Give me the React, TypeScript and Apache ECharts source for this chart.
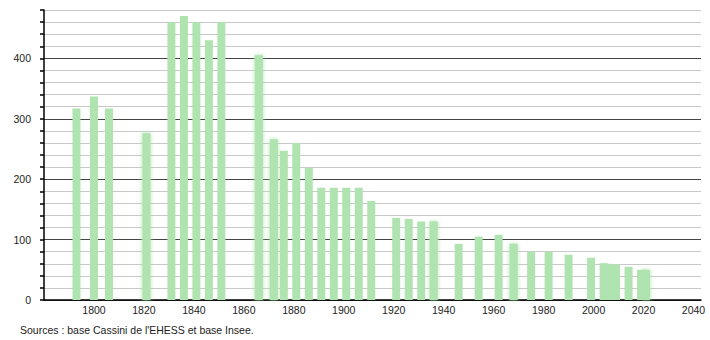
import React, { useEffect, useRef } from "react";
import * as echarts from "echarts";

const years = [1793, 1800, 1806, 1821, 1831, 1836, 1841, 1846, 1851, 1866, 1872, 1876, 1881, 1886, 1891, 1896, 1901, 1906, 1911, 1921, 1926, 1931, 1936, 1946, 1954, 1962, 1968, 1975, 1982, 1990, 1999, 2004, 2006, 2009, 2014, 2019, 2021];
const population = [317, 337, 317, 276, 460, 470, 460, 430, 460, 405, 266, 247, 260, 219, 186, 186, 186, 186, 164, 136, 134, 130, 130, 93, 105, 108, 93, 80, 80, 75, 70, 61, 60, 59, 55, 50, 50];
const blurredYears = [1821, 1866, 1872, 1936, 1968, 2021];
const yTickLabels = [0, 100, 200, 300, 400];
const xTickLabels = [1800, 1820, 1840, 1860, 1880, 1900, 1920, 1940, 1960, 1980, 2000, 2020, 2040];
const sourceText = "Sources : base Cassini de l'EHESS et base Insee.";

const GREEN = "#afe3af";
const FONT = "Liberation Sans, Arial, sans-serif";

export default function App() {
  const ref = useRef<HTMLDivElement>(null);
  useEffect(() => {
    if (!ref.current) return;
    const chart = echarts.init(ref.current, undefined, { renderer: "svg" });
    const data = years.map((y, i) => {
      const blurred = blurredYears.includes(y);
      return {
        value: [y, population[i]],
        itemStyle: blurred
          ? { color: GREEN, shadowBlur: 4, shadowColor: GREEN }
          : { color: GREEN },
      };
    });
    chart.setOption({
      animation: false,
      backgroundColor: "#ffffff",
      grid: { left: 44, right: 9, top: 10, bottom: 40, containLabel: false },
      xAxis: {
        type: "value",
        min: 1780,
        max: 2043,
        interval: 20,
        axisLine: { show: true, lineStyle: { color: "#000", width: 1.5 } },
        axisTick: { show: false },
        splitLine: { show: false },
        axisLabel: {
          margin: 4,
          fontSize: 10.5,
          fontFamily: FONT,
          color: "#222",
          showMinLabel: false,
          showMaxLabel: false,
          formatter: (v: number) => (xTickLabels.includes(v) ? String(v) : ""),
        },
      },
      yAxis: {
        type: "value",
        min: 0,
        max: 480,
        interval: 20,
        axisLine: { show: true, lineStyle: { color: "#000", width: 1.5 } },
        axisTick: { show: true, inside: false, length: 4, lineStyle: { color: "#000", width: 1.5 } },
        splitLine: {
          show: true,
          lineStyle: { color: ["#444", "#c8c8c8", "#c8c8c8", "#c8c8c8", "#c8c8c8"], width: 1 },
        },
        axisLabel: {
          margin: 13,
          fontSize: 10.5,
          fontFamily: FONT,
          color: "#222",
          formatter: (v: number) => (yTickLabels.includes(v) ? String(v) : ""),
        },
      },
      series: [
        {
          type: "bar",
          barWidth: 8,
          data,
          z: 3,
        },
      ],
      graphic: [
        {
          type: "text",
          left: 20,
          top: 324,
          style: { text: sourceText, fontSize: 10.5, fontFamily: FONT, fill: "#222" },
        },
      ],
    });
    return () => chart.dispose();
  }, []);
  return <div ref={ref} style={{ position: "fixed", left: 0, top: 0, width: 710, height: 340 }} />;
}
